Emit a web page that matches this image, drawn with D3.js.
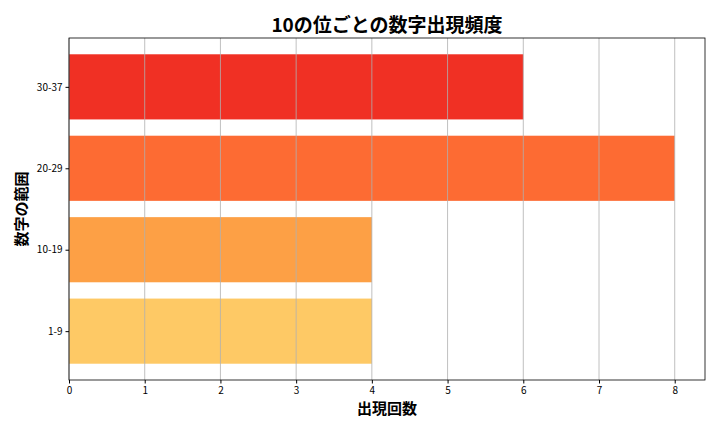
<!DOCTYPE html><html><head><meta charset="utf-8"><script src="https://cdn.jsdelivr.net/npm/d3@7"></script>
<style>body{margin:0;background:#fff}text{font-family:"Noto Sans CJK JP","DejaVu Sans",sans-serif}</style></head><body>
<svg id="c" width="720" height="432"></svg>
<script>
const categories=["1-9","10-19","20-29","30-37"];
const values=[4,4,8,6];
const colors=["#fec965","#fda045","#fd6b33","#f03024"];
const xTicks=[0,1,2,3,4,5,6,7,8];
const svg=d3.select("#c");
const L=69,R=705,T=38,B=380;
const x=d3.scaleLinear().domain([0,8.4]).range([L,R]);
const y=d3.scaleLinear().domain([-0.6,3.6]).range([B,T]);
const bh=y(0)-y(0.8);
svg.selectAll("rect.b").data(values).enter().append("rect")
 .attr("x",x(0)).attr("y",(d,i)=>y(i)-bh/2).attr("width",d=>x(d)-x(0)).attr("height",bh)
 .attr("fill",(d,i)=>colors[i]);
svg.selectAll("line.g").data(xTicks).enter().append("line")
 .attr("x1",d=>x(d)).attr("x2",d=>x(d)).attr("y1",T).attr("y2",B).attr("stroke","#b0b0b0").attr("stroke-width",0.8);
const xa=svg.append("g").attr("transform",`translate(0,${B})`).call(d3.axisBottom(x).tickValues(xTicks).tickSize(3.5).tickFormat(d3.format("d")));
const ya=svg.append("g").attr("transform",`translate(${L},0)`).call(d3.axisLeft(y).tickValues([0,1,2,3]).tickSize(3.5).tickFormat(i=>categories[i]));
[xa,ya].forEach(a=>{a.selectAll("text").attr("font-size",10).attr("fill","#000");a.select(".domain").remove();a.selectAll("line").attr("stroke","#000");});
svg.append("rect").attr("x",L).attr("y",T).attr("width",R-L).attr("height",B-T).attr("fill","none").attr("stroke","#000").attr("stroke-width",0.8);
svg.append("text").attr("x",(L+R)/2).attr("y",32).attr("text-anchor","middle").attr("font-size",19).attr("font-weight","bold").text("10の位ごとの数字出現頻度");
svg.append("text").attr("x",(L+R)/2).attr("y",414).attr("text-anchor","middle").attr("font-size",15).attr("font-weight","bold").text("出現回数");
svg.append("text").attr("transform",`translate(27,${(T+B)/2}) rotate(-90)`).attr("text-anchor","middle").attr("font-size",15).attr("font-weight","bold").text("数字の範囲");
</script></body></html>
